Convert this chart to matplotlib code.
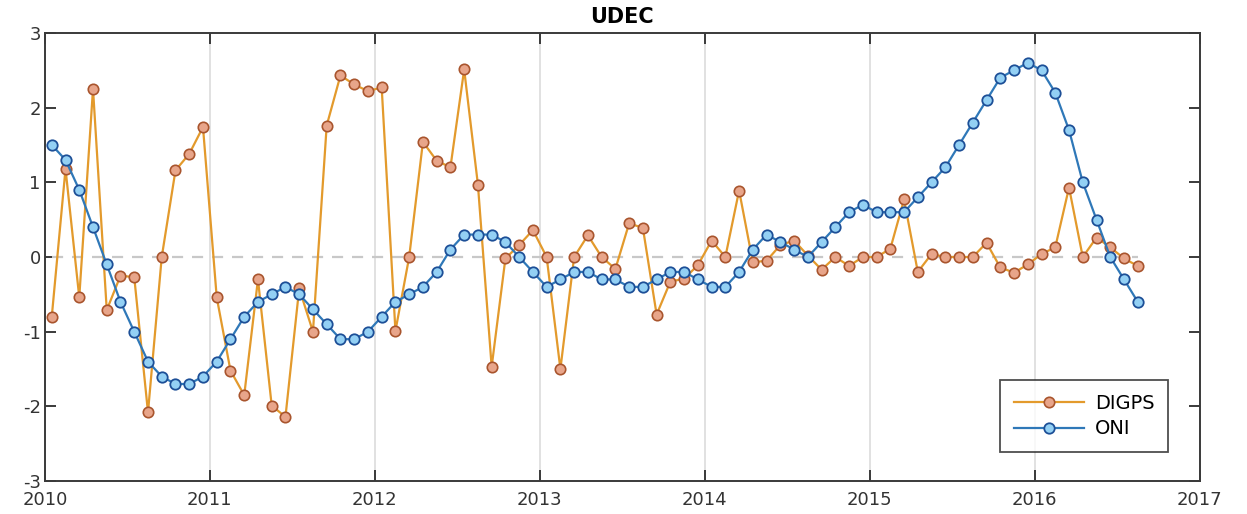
import numpy as np
import matplotlib.pyplot as plt

# monthly series, Jan 2010 .. Aug 2016
digps = [
    -0.80, 1.18, -0.54, 2.25, -0.71, -0.25, -0.27, -2.08, 0.00, 1.16, 1.38, 1.74,
    -0.54, -1.52, -1.85, -0.30, -1.99, -2.14, -0.42, -1.00, 1.76, 2.43, 2.31, 2.22,
    2.27, -0.99, 0.00, 1.54, 1.29, 1.20, 2.51, 0.97, -1.47, -0.02, 0.16, 0.36,
    0.00, -1.50, 0.00, 0.29, 0.00, -0.16, 0.45, 0.39, -0.77, -0.33, -0.29, -0.11,
    0.22, 0.00, 0.89, -0.07, -0.05, 0.16, 0.22, 0.02, -0.17, 0.00, -0.12, 0.00,
    0.00, 0.11, 0.77, -0.20, 0.04, 0.00, 0.00, 0.00, 0.19, -0.14, -0.21, -0.10,
    0.04, 0.13, 0.93, 0.00, 0.26, 0.13, -0.02, -0.12,
]
oni = [
    1.5, 1.3, 0.9, 0.4, -0.1, -0.6, -1.0, -1.4, -1.6, -1.7, -1.7, -1.6,
    -1.4, -1.1, -0.8, -0.6, -0.5, -0.4, -0.5, -0.7, -0.9, -1.1, -1.1, -1.0,
    -0.8, -0.6, -0.5, -0.4, -0.2, 0.1, 0.3, 0.3, 0.3, 0.2, 0.0, -0.2,
    -0.4, -0.3, -0.2, -0.2, -0.3, -0.3, -0.4, -0.4, -0.3, -0.2, -0.2, -0.3,
    -0.4, -0.4, -0.2, 0.1, 0.3, 0.2, 0.1, 0.0, 0.2, 0.4, 0.6, 0.7,
    0.6, 0.6, 0.6, 0.8, 1.0, 1.2, 1.5, 1.8, 2.1, 2.4, 2.5, 2.6,
    2.5, 2.2, 1.7, 1.0, 0.5, 0.0, -0.3, -0.6,
]
start_year = 2010
year_ticks = list(range(2010, 2018))
y_ticks = [-3, -2, -1, 0, 1, 2, 3]

t = start_year + (np.arange(len(oni)) + 0.5) / 12.0

plt.rcParams['font.family'] = ['DejaVu Sans']

fig = plt.figure(figsize=(12.47, 5.14), dpi=100)
ax = fig.add_axes([0.036, 0.064, 0.926, 0.872])

ax.plot([t[0], t[-1]], [0, 0], color='#c8c8c8', lw=1.6, ls=(0, (5, 4)), zorder=1)

ax.plot(t, digps, color='#e39a2c', lw=1.6, marker='o', ms=7.5,
        mfc='#e8a58a', mec='#a9552e', mew=1.2, label='DIGPS', zorder=3)
ax.plot(t, oni, color='#2f78b8', lw=1.6, marker='o', ms=7.5,
        mfc='#93d0f4', mec='#1d4f97', mew=1.3, label='ONI', zorder=4)

ax.set_xlim(2010, 2017)
ax.set_ylim(-3, 3)
ax.set_xticks(year_ticks)
ax.set_xticklabels([str(y) for y in year_ticks])
ax.set_yticks(y_ticks)
ax.set_yticklabels([str(v) for v in y_ticks])

ax.grid(axis='x', color='#dcdcdc', lw=1.2)
ax.set_axisbelow(True)
ax.tick_params(direction='in', top=True, right=True, length=8, width=1.4,
               color='#3a3a3a', labelsize=13, labelcolor='#333333', pad=3)
ax.tick_params(axis='x', pad=7)
for s in ax.spines.values():
    s.set_color('#3a3a3a')
    s.set_linewidth(1.4)

ax.set_title('UDEC', fontsize=15, fontweight='bold', pad=7)

leg = ax.legend(loc='lower right', bbox_to_anchor=(0.973, 0.065), borderaxespad=0,
                fontsize=14, frameon=True, fancybox=False, handlelength=3.6,
                handletextpad=0.6, borderpad=0.7, labelspacing=0.35)
leg.get_frame().set_edgecolor('#222222')
leg.get_frame().set_linewidth(1.3)

fig.savefig('out.png', dpi=100)
